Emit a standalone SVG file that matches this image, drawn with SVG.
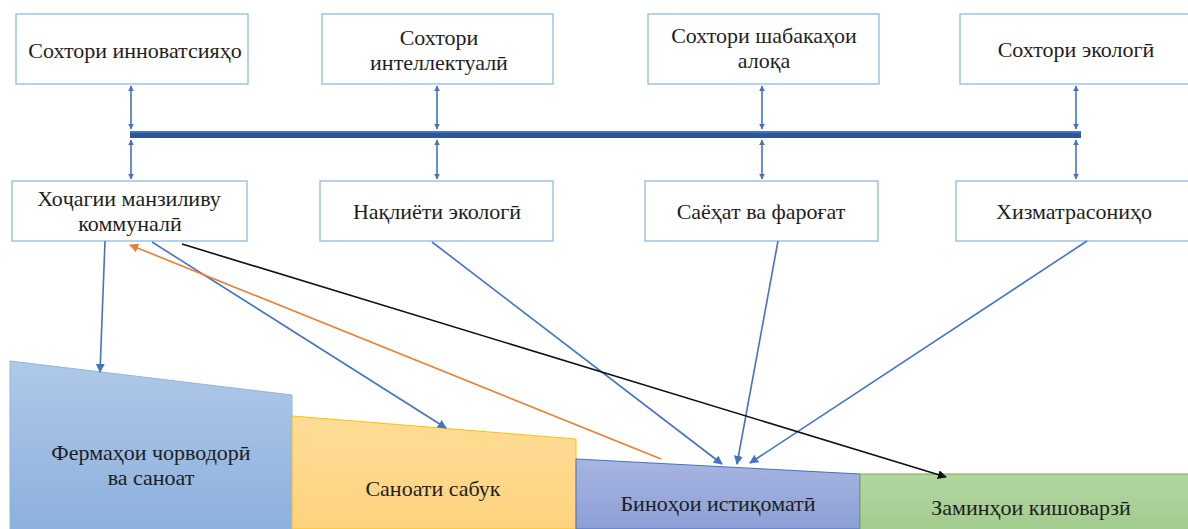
<svg xmlns="http://www.w3.org/2000/svg" width="1188" height="529" viewBox="0 0 1188 529">
<defs>
<style>
.box{fill:#fff;stroke:#9DC3E6;stroke-width:1.5}
text{font-family:'Liberation Serif','Times New Roman',serif;font-size:22px;fill:#1e1e1e;text-anchor:middle}
.bl{stroke:#4472C4;stroke-width:1.6;fill:none}
.or{stroke:#ED7D31;stroke-width:1.6;fill:none}
.bk{stroke:#111;stroke-width:1.6;fill:none}
</style>
<linearGradient id="gB" x1="0" y1="0" x2="0" y2="1"><stop offset="0" stop-color="#AFC9E8"/><stop offset="1" stop-color="#8DB0DD"/></linearGradient>
<linearGradient id="gY" x1="0" y1="0" x2="0" y2="1"><stop offset="0" stop-color="#FFDC96"/><stop offset="1" stop-color="#FED37F"/></linearGradient>
<linearGradient id="gP" x1="0" y1="0" x2="0" y2="1"><stop offset="0" stop-color="#A7B5E0"/><stop offset="1" stop-color="#8C9FD6"/></linearGradient>
<linearGradient id="gG" x1="0" y1="0" x2="0" y2="1"><stop offset="0" stop-color="#B3D6A2"/><stop offset="1" stop-color="#A2CB8D"/></linearGradient>
<marker id="aB" viewBox="0 0 10 10" refX="9" refY="5" markerWidth="6" markerHeight="6" orient="auto-start-reverse" markerUnits="userSpaceOnUse"><path d="M0,0 L10,5 L0,10 z" fill="#4472C4"/></marker>
<marker id="aBs" viewBox="0 0 10 10" refX="9" refY="5" markerWidth="9" markerHeight="9" orient="auto" markerUnits="userSpaceOnUse"><path d="M0,0 L10,5 L0,10 z" fill="#4472C4"/></marker>
<marker id="aO" viewBox="0 0 10 10" refX="9" refY="5" markerWidth="9" markerHeight="9" orient="auto" markerUnits="userSpaceOnUse"><path d="M0,0 L10,5 L0,10 z" fill="#ED7D31"/></marker>
<marker id="aK" viewBox="0 0 10 10" refX="9" refY="5" markerWidth="9" markerHeight="9" orient="auto" markerUnits="userSpaceOnUse"><path d="M0,0 L10,5 L0,10 z" fill="#111"/></marker>
</defs>

<g id="sector-farm">
<polygon points="10,361 292,395 292,529 10,529" fill="url(#gB)" stroke="#8DB4E2" stroke-width="1"/>
<text x="151" y="460">Фермаҳои чорводорӣ</text>
<text x="151" y="485">ва саноат</text>
</g>
<g id="sector-light">
<polygon points="292,416 576,439 576,529 292,529" fill="url(#gY)" stroke="#FFC000" stroke-width="1"/>
<text x="433" y="496">Саноати сабук</text>
</g>
<g id="sector-housing">
<polygon points="576,459 860,474 860,529 576,529" fill="url(#gP)" stroke="#4472C4" stroke-width="1"/>
<text x="718" y="511">Биноҳои истиқоматӣ</text>
</g>
<g id="sector-agri">
<rect x="860" y="474" width="330" height="57" fill="url(#gG)" stroke="#70AD47" stroke-width="1"/>
<text x="1031" y="515">Заминҳои кишоварзӣ</text>
</g>

<g id="n-innov"><rect class="box" x="16" y="14" width="232" height="70"/><text x="135" y="58">Сохтори инноватсияҳо</text></g>
<g id="n-intel"><rect class="box" x="322" y="14" width="231" height="70"/><text x="439" y="45">Сохтори</text><text x="439" y="70">интеллектуалӣ</text></g>
<g id="n-comm"><rect class="box" x="648" y="14" width="231" height="70"/><text x="764" y="43">Сохтори шабакаҳои</text><text x="764" y="68">алоқа</text></g>
<g id="n-eco"><rect class="box" x="960" y="14" width="232" height="70"/><text x="1076" y="57">Сохтори экологӣ</text></g>

<g id="n-housing"><rect class="box" x="12" y="181" width="235" height="60"/><text x="129" y="206">Хоҷагии манзиливу</text><text x="130" y="231">коммуналӣ</text></g>
<g id="n-transport"><rect class="box" x="320" y="181" width="233" height="60"/><text x="437" y="219">Нақлиёти экологӣ</text></g>
<g id="n-tourism"><rect class="box" x="645" y="181" width="233" height="60"/><text x="761" y="219">Саёҳат ва фароғат</text></g>
<g id="n-services"><rect class="box" x="956" y="181" width="234" height="60"/><text x="1074" y="219">Хизматрасониҳо</text></g>

<g id="bus">
<rect x="130" y="131" width="951" height="7" fill="#2F5597"/>
<rect x="130" y="131" width="951" height="2" fill="#4472C4"/>
</g>

<g id="connectors">
<line class="bl" x1="131" y1="86" x2="131" y2="129" marker-start="url(#aB)" marker-end="url(#aB)"/>
<line class="bl" x1="437" y1="86" x2="437" y2="129" marker-start="url(#aB)" marker-end="url(#aB)"/>
<line class="bl" x1="762" y1="86" x2="762" y2="129" marker-start="url(#aB)" marker-end="url(#aB)"/>
<line class="bl" x1="1076" y1="86" x2="1076" y2="129" marker-start="url(#aB)" marker-end="url(#aB)"/>
<line class="bl" x1="131" y1="140" x2="131" y2="179" marker-start="url(#aB)" marker-end="url(#aB)"/>
<line class="bl" x1="437" y1="140" x2="437" y2="179" marker-start="url(#aB)" marker-end="url(#aB)"/>
<line class="bl" x1="762" y1="140" x2="762" y2="179" marker-start="url(#aB)" marker-end="url(#aB)"/>
<line class="bl" x1="1076" y1="140" x2="1076" y2="179" marker-start="url(#aB)" marker-end="url(#aB)"/>

<line class="bl" x1="105" y1="241" x2="100" y2="372" marker-end="url(#aBs)"/>
<line class="bl" x1="152" y1="242" x2="446" y2="428" marker-end="url(#aBs)"/>
<line class="bl" x1="432" y1="242" x2="722" y2="464" marker-end="url(#aBs)"/>
<line class="bl" x1="778" y1="241" x2="737" y2="464" marker-end="url(#aBs)"/>
<line class="bl" x1="1087" y1="241" x2="750" y2="463" marker-end="url(#aBs)"/>
<line class="or" x1="661" y1="459" x2="130" y2="245" marker-end="url(#aO)"/>
<line class="bk" x1="182" y1="244" x2="946" y2="477" marker-end="url(#aK)"/>
</g>
</svg>
